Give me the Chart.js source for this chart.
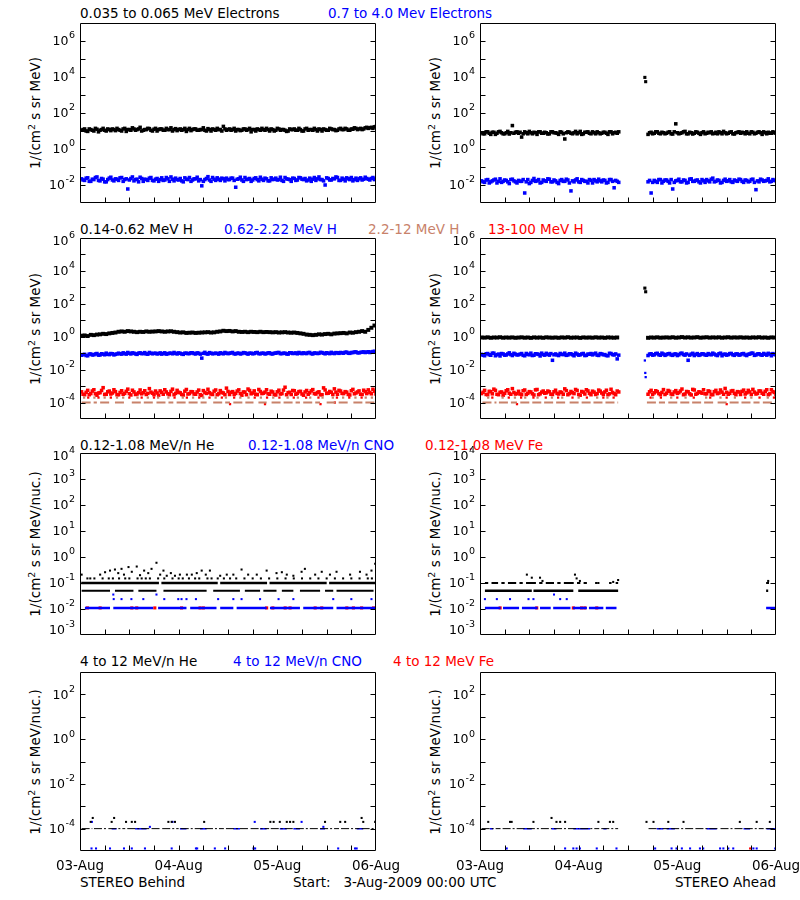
<!DOCTYPE html>
<html><head><meta charset="utf-8">
<script src="https://cdn.jsdelivr.net/npm/chart.js@4.4.1/dist/chart.umd.min.js"></script>
<style>
html,body{margin:0;padding:0;background:#fff;}
#wrap{position:relative;width:800px;height:900px;overflow:hidden;font-family:"DejaVu Sans",sans-serif;font-size:13.5px;color:#000;}
canvas{position:absolute;}
.t{position:absolute;white-space:nowrap;line-height:16px;}
.yt{position:absolute;white-space:nowrap;line-height:16px;transform:translate(-50%,-50%) rotate(-90deg);}
.yt sup{font-size:9.5px;vertical-align:5px;line-height:0;}
.b{color:#0000ff}.r{color:#ff0000}.s{color:#c8826a}
</style></head><body><div id="wrap">
<span class="t" style="left:80px;top:5px">0.035 to 0.065 MeV Electrons</span>
<span class="t b" style="left:328px;top:5px">0.7 to 4.0 Mev Electrons</span>
<span class="t" style="left:80px;top:221px">0.14-0.62 MeV H</span>
<span class="t b" style="left:224px;top:221px">0.62-2.22 MeV H</span>
<span class="t s" style="left:368px;top:221px">2.2-12 MeV H</span>
<span class="t r" style="left:488px;top:221px">13-100 MeV H</span>
<span class="t" style="left:80px;top:437px">0.12-1.08 MeV/n He</span>
<span class="t b" style="left:248px;top:437px">0.12-1.08 MeV/n CNO</span>
<span class="t r" style="left:425px;top:437px">0.12-1.08 MeV Fe</span>
<span class="t" style="left:80px;top:653px">4 to 12 MeV/n He</span>
<span class="t b" style="left:233px;top:653px">4 to 12 MeV/n CNO</span>
<span class="t r" style="left:393px;top:653px">4 to 12 MeV Fe</span>
<span class="t" style="left:80px;top:874px">STEREO Behind</span>
<span class="t" style="left:293px;top:874px">Start:&nbsp;&nbsp;&nbsp;3-Aug-2009 00:00 UTC</span>
<span class="t" style="right:24px;top:874px">STEREO Ahead</span>
<div class="yt" style="left:35px;top:113px">1/(cm<sup>2</sup> s sr MeV)</div>
<div class="yt" style="left:435px;top:113px">1/(cm<sup>2</sup> s sr MeV)</div>
<div class="yt" style="left:35px;top:329px">1/(cm<sup>2</sup> s sr MeV)</div>
<div class="yt" style="left:435px;top:329px">1/(cm<sup>2</sup> s sr MeV)</div>
<div class="yt" style="left:35px;top:544px">1/(cm<sup>2</sup> s sr MeV/nuc.)</div>
<div class="yt" style="left:435px;top:544px">1/(cm<sup>2</sup> s sr MeV/nuc.)</div>
<div class="yt" style="left:35px;top:762px">1/(cm<sup>2</sup> s sr MeV/nuc.)</div>
<div class="yt" style="left:435px;top:762px">1/(cm<sup>2</sup> s sr MeV/nuc.)</div>
</div>
<script>
// ---------------- DATA ----------------
const HOURS = 72;                       // 03-Aug 00:00 to 06-Aug 00:00
const dayLabels = ['03-Aug','04-Aug','05-Aug','06-Aug'];
const dayHours = [0,24,48,72];
const xTickHours = [6,12,18,24,30,36,42,48,54,60,66];

// Row 1: electrons (two interleaved 45-min sample sets: A on the half-step, B on the step)
const eLowBehind = [
 11,13,9.5,12,10,12.5,11,14,10,12,13,10.5,
 12,10,14,12,11,13,12,16,11,12,13.5,10,
 14,12,13,11,12,15,12,10.5,13,12,9.5,14,
 12,13,11,12,11,13.5,10,12,14,12,18,11,
 13,12,10,12,11,13,12,9,12,13,11,12,
 14,10,12,11,13,12,11,10,12,13,11,12,
 10,14,12,11,12,13,10,12,11,13,12,11,
 14,12,13,11,12.5,14,13,12,15,14,16,17];
const eLowBehindB = [
 12,10,13,11,14,9,12,11,13,10.5,12,14,
 11,13,9.5,12,15,11,13,10,12,14,11,12.5,
 10,13,11,14,12,10,13.5,12,11,14,12,10.5,
 13,11,12,15,10,12,13,11,12,10,13,12,
 11,14,12,10.5,13,11,14,12,10,12,14,11,
 12,13,10,14,11,12,9.5,13,12,11,14,10,
 13,11,12,14,10,12,13,11,14,12,10.5,13,
 12,14,11,13,15,12,14,13,16,15,14,18];
const eHighBehind = [
 .022,.018,.025,.016,.02,.028,.017,.021,.015,.024,.019,.022,
 .018,.026,.02,.006,.023,.017,.021,.027,.016,.02,.024,.018,
 .021,.016,.025,.019,.022,.028,.017,.02,.023,.015,.021,.026,
 .019,.022,.017,.009,.02,.029,.016,.021,.025,.018,.022,.024,
 .02,.024,.0075,.022,.019,.026,.021,.016,.023,.02,.027,.018,
 .022,.017,.02,.024,.02,.018,.026,.021,.016,.023,.019,.025,
 .02,.017,.024,.021,.018,.028,.02,.01,.023,.019,.022,.026,
 .018,.021,.025,.02,.017,.024,.022,.019,.027,.021,.023,.02];
const eHighBehindB = [
 .019,.024,.016,.021,.026,.018,.023,.015,.02,.027,.017,.021,
 .025,.016,.022,.019,.028,.02,.015,.023,.021,.018,.026,.017,
 .023,.02,.018,.026,.016,.021,.024,.019,.017,.025,.02,.016,
 .022,.027,.02,.016,.023,.019,.026,.018,.021,.024,.017,.02,
 .024,.018,.021,.027,.016,.02,.023,.019,.025,.017,.021,.024,
 .017,.025,.021,.019,.027,.016,.022,.02,.024,.018,.026,.021,
 .023,.019,.016,.026,.022,.02,.017,.025,.019,.023,.028,.018,
 .024,.017,.022,.026,.02,.018,.025,.021,.023,.019,.026,.022];
const eLowAhead = [
 8,7,9,6.5,8.5,7.5,9.5,7,8,6.8,20,8.5,
 7.5,4.6,9,7,8,8.5,6.5,9,7.5,8,7,9,
 8,6.5,8.5,3.6,9,7.5,8,7,9.5,7,8.5,7.5,
 9,7,8,7.5,8.5,6.5,9,8,7.5,null,null,null,
 null,null,null,null,null,null,6.5,8.5,7.5,9,7,8,
 7.5,9,6.8,25,7,8,9.5,7,8,7.5,8.5,6.5,
 9,7.5,8,7,8.5,9,7,8,7.5,9,6.8,8.5,
 7.5,8,9,7,8.5,7.5,9,6.5,8,8.5,7.5,8];
const eLowAheadB = [
 7,9,7.5,8.5,6.5,9,8,7,9.5,8,7.5,9,
 8.5,7,8,9.5,7,8,9,7.5,8.5,6.8,9,8,
 7.5,9,7,8,8.5,7,9.5,8,6.5,8.5,9,7,
 8,9,7,8.5,7.5,9,7,8.5,9,null,null,null,
 null,null,null,null,null,null,8,7,9,7.5,8.5,7,
 8.5,7,9,8,7.5,9,7,8.5,6.8,9,7.5,8,
 7,8.5,9,7.5,7,8,9.5,7,8.5,7,8,9,
 8.5,7,7.5,9,7,8.5,8,9,7,7.5,9,7.5];
const eHighAhead = [
 .017,.014,.02,.015,.019,.013,.022,.016,.018,.012,.021,.015,
 .018,.016,.0036,.02,.014,.023,.017,.013,.019,.016,.021,.015,
 .017,.012,.02,.016,.019,.0047,.015,.022,.014,.018,.016,.02,
 .013,.017,.021,.015,.018,.014,.02,.007,.016,null,null,null,
 null,null,null,null,null,null,.015,.0036,.018,.014,.02,.016,
 .019,.013,.006,.017,.021,.015,.018,.014,.022,.016,.019,.013,
 .017,.02,.015,.024,.016,.018,.014,.021,.017,.015,.019,.016,
 .02,.014,.018,.016,.021,.0055,.015,.019,.017,.022,.016,.018];
const eHighAheadB = [
 .015,.019,.013,.017,.021,.016,.014,.019,.015,.02,.017,.013,
 .016,.02,.015,.012,.018,.016,.02,.014,.017,.022,.015,.019,
 .014,.018,.016,.021,.013,.017,.019,.015,.02,.016,.013,.018,
 .02,.015,.017,.019,.013,.02,.016,.018,.014,null,null,null,
 null,null,null,null,null,null,.018,.014,.016,.02,.013,.019,
 .016,.02,.014,.018,.015,.019,.013,.021,.016,.018,.015,.02,
 .014,.017,.021,.015,.019,.013,.018,.016,.02,.014,.017,.021,
 .016,.019,.015,.02,.014,.017,.021,.016,.018,.015,.02,.017];
const eLowAheadSpike = [[40.1,9500],[40.3,5500]];

// Row 2: protons
const hLowBehind = [
 1.15,1.2,1.1,1.3,1.25,1.35,1.4,1.5,1.45,1.6,1.7,1.8,
 2.0,2.1,2.0,2.2,2.1,2.0,1.9,2.0,1.95,2.1,2.0,2.05,
 2.1,2.2,2.1,2.0,2.1,2.15,2.0,1.9,1.8,1.85,1.7,1.75,
 1.8,1.7,1.75,1.8,1.85,1.9,1.8,1.85,2.0,2.1,2.3,2.2,
 2.25,2.1,2.2,2.0,1.95,2.0,1.9,2.0,1.95,1.9,2.0,1.9,
 1.95,1.9,1.85,1.9,1.8,1.85,1.9,1.8,1.75,1.8,1.7,1.6,
 1.5,1.35,1.3,1.25,1.3,1.4,1.35,1.45,1.5,1.4,1.55,1.6,
 1.65,1.7,1.6,1.8,1.75,1.9,2.0,2.2,2.0,2.6,3.5,4.8];
const hMidBehind = [
 .075,.085,.07,.09,.08,.095,.078,.088,.1,.082,.092,.085,
 .1,.088,.095,.11,.09,.1,.085,.105,.095,.09,.11,.092,
 .1,.095,.088,.105,.092,.1,.11,.09,.098,.085,.1,.095,
 .105,.09,.1,.05,.112,.088,.1,.096,.096,.105,.092,.1,
 .098,.11,.09,.1,.095,.105,.088,.1,.096,.11,.092,.1,
 .095,.105,.09,.1,.11,.094,.1,.088,.105,.098,.092,.1,
 .105,.095,.11,.09,.1,.098,.108,.092,.1,.112,.095,.105,
 .11,.1,.115,.098,.108,.12,.105,.115,.11,.122,.118,.13];
const hMidBehindB = [
 .082,.072,.088,.078,.09,.076,.092,.08,.086,.095,.079,.09,
 .092,.105,.088,.098,.104,.09,.1,.094,.108,.087,.1,.098,
 .09,.104,.096,.088,.1,.092,.098,.104,.09,.1,.094,.106,
 .095,.104,.088,.098,.093,.108,.092,.1,.088,.098,.11,.094,
 .104,.092,.1,.09,.108,.096,.1,.092,.106,.094,.1,.09,
 .104,.092,.1,.108,.094,.1,.09,.106,.096,.104,.11,.094,
 .098,.108,.094,.104,.096,.112,.1,.106,.094,.1,.108,.098,
 .104,.114,.1,.11,.118,.106,.112,.12,.116,.11,.125,.12];
const hHighBehind = [
 4.5e-4,3e-4,5.5e-4,3.5e-4,6e-4,2.8e-4,4e-4,8e-4,3.2e-4,5e-4,3.8e-4,4.6e-4,
 3e-4,5.2e-4,3.6e-4,6.5e-4,2.9e-4,4.4e-4,3.3e-4,5.8e-4,4e-4,3.1e-4,7e-4,3.7e-4,
 5e-4,2.8e-4,4.2e-4,6e-4,3.4e-4,4.8e-4,3e-4,5.5e-4,3.9e-4,2.9e-4,6.2e-4,3.5e-4,
 4.5e-4,3.2e-4,5.7e-4,2.7e-4,4.1e-4,6.4e-4,3.3e-4,4.9e-4,3e-4,5.3e-4,3.8e-4,7.5e-4,
 3.1e-4,4.6e-4,3.6e-4,5.9e-4,2.8e-4,4.3e-4,6.6e-4,3.4e-4,5.1e-4,3e-4,4.7e-4,3.7e-4,
 6e-4,3.2e-4,4.4e-4,2.9e-4,5.6e-4,3.5e-4,8.5e-4,4e-4,3.1e-4,5.2e-4,3.6e-4,4.8e-4,
 2.8e-4,5.4e-4,3.9e-4,6.1e-4,3.3e-4,4.5e-4,3e-4,5.8e-4,3.7e-4,4.2e-4,6.8e-4,3.2e-4,
 5e-4,3.5e-4,4.3e-4,2.9e-4,6.3e-4,3.8e-4,5.1e-4,3.1e-4,4.6e-4,5.9e-4,3.4e-4,4.9e-4];
const hHighBehindB = [
 3.2e-4,4.2e-4,3e-4,5e-4,3.4e-4,3.8e-4,5.4e-4,3.1e-4,4.5e-4,3.3e-4,6e-4,3e-4,
 4.1e-4,3.2e-4,4.8e-4,3.5e-4,5.6e-4,3.1e-4,4e-4,3.4e-4,5.2e-4,3.6e-4,4.3e-4,3e-4,
 3.8e-4,5.1e-4,3.2e-4,4.4e-4,3e-4,6.5e-4,3.6e-4,4.2e-4,3.1e-4,4.9e-4,3.3e-4,4.6e-4,
 3.3e-4,4.4e-4,3e-4,5.3e-4,3.6e-4,4e-4,3.1e-4,5.8e-4,3.4e-4,4.1e-4,3e-4,4.7e-4,
 4.2e-4,3.1e-4,5e-4,3.5e-4,4.4e-4,3e-4,5.4e-4,3.8e-4,3.2e-4,6.2e-4,3.5e-4,4.3e-4,
 3.4e-4,4.9e-4,3.1e-4,4.5e-4,3.3e-4,5.7e-4,3e-4,4.2e-4,5.4e-4,3.2e-4,4.6e-4,3.3e-4,
 4.4e-4,3.2e-4,5.1e-4,3.5e-4,4.1e-4,3e-4,7.8e-4,3.6e-4,4.7e-4,3.1e-4,4.3e-4,5.5e-4,
 3.6e-4,4.6e-4,3.1e-4,5.2e-4,3.4e-4,4.4e-4,3.2e-4,5.6e-4,3.5e-4,4.1e-4,6.4e-4,3.3e-4];
const hSiennaOneBehind = [[0.4,4.1],[4.9,7.3],[8.5,11.4],[12.6,17.8],[18.6,22.7],[23.5,30.8],[32.4,36.5],[37.3,42.2],[43.4,45.4],[46.6,53.5],[54.3,58.4],[60,65.7],[66.5,72]];
const hSiennaTwoBehind = [1,3.5,6,9,10.5,14,16.5,19,21.5,25,27.5,30,33,35.5,39,41,44,47,50.5,53,56,59,61.5,64,67,69.5,71];
const hRedTwoBehind = [2,4.5,7.5,12,15,18,23,26,29,31.5,34.5,37.5,42.5,45.5,48.5,52,55,58,62.5,65.5,68.5];
const hRedLowBehind = [[36.5,8e-5],[45,8e-5],[58.5,8e-5],[62,1e-4]];

const hLowAhead = [
 .9,.88,.92,.86,.9,.89,.93,.87,.9,.88,.91,.86,
 .89,.92,.87,.9,.85,.91,.88,.9,.86,.92,.89,.87,
 .9,.86,.91,.88,.93,.87,.89,.9,.85,.91,.88,.9,
 .87,.92,.88,.9,.86,.91,.89,.87,.9,null,null,null,
 null,null,null,null,null,null,.86,.9,.88,.92,.87,.89,
 .91,.88,.93,.87,.9,.95,.89,.92,.88,.9,.94,.87,
 .9,.93,.88,.91,.89,.92,.87,.9,.93,.88,.91,.89,
 .92,.88,.9,.87,.91,.89,.93,.88,.9,.86,.91,.89];
const hMidAhead = [
 .085,.07,.095,.075,.1,.08,.068,.09,.078,.105,.072,.088,
 .08,.095,.07,.085,.1,.075,.09,.068,.082,.098,.076,.037,
 .09,.072,.085,.1,.078,.092,.07,.088,.08,.096,.074,.086,
 .079,.1,.073,.09,.082,.07,.095,.078,.045,null,null,null,
 null,null,null,null,null,null,.072,.092,.08,.098,.075,.088,
 .082,.095,.074,.09,.08,.1,.076,.037,.088,.072,.094,.08,
 .09,.075,.085,.1,.078,.092,.07,.088,.082,.096,.074,.09,
 .08,.095,.072,.088,.1,.078,.092,.075,.086,.098,.07,.084];
const hMidAheadB = [
 .075,.092,.08,.1,.07,.088,.095,.076,.09,.082,.098,.078,
 .088,.074,.096,.08,.072,.092,.084,.1,.076,.086,.094,.08,
 .078,.096,.082,.074,.092,.08,.1,.076,.09,.072,.088,.095,
 .09,.076,.094,.08,.072,.098,.082,.09,.076,null,null,null,
 null,null,null,null,null,null,.088,.076,.094,.08,.1,.074,
 .092,.078,.088,.072,.096,.082,.09,.076,.098,.084,.074,.092,
 .078,.094,.08,.088,.072,.1,.084,.076,.094,.08,.09,.076,
 .092,.078,.086,.1,.074,.09,.08,.096,.076,.088,.094,.08];
const hHighAhead = [
 3.5e-4,5.5e-4,3e-4,4.6e-4,6.5e-4,3.2e-4,4.2e-4,2.8e-4,5.2e-4,3.7e-4,7e-4,3.3e-4,
 4.8e-4,3e-4,5.8e-4,3.6e-4,4.4e-4,2.9e-4,6.2e-4,3.4e-4,5e-4,3.9e-4,4.5e-4,3.1e-4,
 5.6e-4,3.3e-4,4.1e-4,6.8e-4,3e-4,4.7e-4,3.5e-4,5.4e-4,2.8e-4,4.3e-4,6e-4,3.6e-4,
 4.9e-4,3.1e-4,5.7e-4,3.8e-4,4.4e-4,3e-4,6.4e-4,3.5e-4,5e-4,null,null,null,
 null,null,null,null,null,null,3.2e-4,5.5e-4,3.9e-4,4.6e-4,3e-4,6.1e-4,
 3.7e-4,4.8e-4,3.1e-4,5.3e-4,4e-4,6.6e-4,3.3e-4,4.5e-4,2.9e-4,5.8e-4,3.6e-4,4.2e-4,
 6e-4,3.4e-4,4.7e-4,3e-4,5.5e-4,3.8e-4,4.3e-4,7.2e-4,3.2e-4,5e-4,3.6e-4,4.6e-4,
 3.1e-4,5.7e-4,3.9e-4,4.4e-4,6.3e-4,3.3e-4,5.1e-4,3.7e-4,4.8e-4,3e-4,6e-4,4.1e-4];
const hHighAheadB = [
 4.2e-4,3.1e-4,4.8e-4,3.4e-4,5.5e-4,3e-4,4.4e-4,3.6e-4,6e-4,3.2e-4,4.1e-4,3.5e-4,
 3.3e-4,5.2e-4,3.1e-4,4.6e-4,3.4e-4,5.9e-4,3e-4,4.3e-4,3.7e-4,5e-4,3.2e-4,4.5e-4,
 3.6e-4,4.4e-4,3.2e-4,5.3e-4,3.5e-4,4e-4,6.2e-4,3.1e-4,4.7e-4,3.3e-4,5.1e-4,3e-4,
 4.3e-4,3.5e-4,4.9e-4,3.1e-4,5.6e-4,3.4e-4,4.1e-4,3e-4,4.4e-4,null,null,null,
 null,null,null,null,null,null,4.5e-4,3.2e-4,5.2e-4,3.5e-4,4.1e-4,3.1e-4,
 5.4e-4,3.3e-4,4.4e-4,3.6e-4,5e-4,3e-4,4.7e-4,3.4e-4,6.3e-4,3.2e-4,4.5e-4,3.7e-4,
 3.4e-4,5.1e-4,3.1e-4,4.6e-4,3.5e-4,5.8e-4,3.2e-4,4.2e-4,3.6e-4,5.3e-4,3e-4,4.4e-4,
 4.8e-4,3.3e-4,5.5e-4,3.1e-4,4.3e-4,3.6e-4,5e-4,3.2e-4,6e-4,3.4e-4,4.6e-4,3.1e-4];
const hSiennaOneAhead = [[0.6,4],[4.6,9],[9.8,15],[15.6,21],[21.8,27],[27.6,33.6],[40.6,45],[45.8,51],[51.6,57],[57.8,63],[63.6,68],[68.8,72]];
const hSiennaTwoAhead = [2,5.5,8.5,11,14,17.5,20,24,28.5,31,42,46.5,50,55,58.5,62,66,70];
const hRedTwoAhead = [3,7,10,13,16,19,22.5,26,30,32.5,41.5,44,48,52,56,60,64.5,68,71.5];
const hRedLowAhead = [[9,8e-5],[60,8e-5]];
const hLowAheadSpike = [[40.1,900],[40.3,540]];
const hMidAheadSpike = [[40.1,0.036],[40.2,0.0063],[40.3,0.0035]];
const hOneCount = 1e-4, hTwoCount = 2e-4;

// Row 3: 0.12-1.08 MeV/n heavy ions
const heUpper = 0.1, heLower = 0.05, heRow = 0.15, cnoLevel = 0.011;
const heUpperBehind = [[0.3,19.2],[19.8,33.5],[34.1,45.5],[46.1,60],[60.6,71.8]];
const heLowerBehind = [[0.4,7.3],[8.5,13],[14.2,18.6],[20.3,30.8],[32.4,38.9],[40.1,43.8],[44.6,47.8],[49.1,51.9],[53.5,58.4],[59.6,61.6],[62.4,71.4]];
const heRowBehind = [2.5,3.5,5.5,7,8,9.5,11,12,14,15,16,17,19,20.5,22.5,24,25,26.5,28,29,31,32,33.5,35,36.5,38,40,42,44,46,48,50,52,54,56,58,60,62,64,66,68,70,71];
const heScatterBehind = [[0.4,0.21],[1.8,0.15],[4.9,0.21],[6.1,0.26],[7.3,0.3],[8.5,0.33],[9.3,0.24],[10.1,0.35],[10.7,0.21],[11.8,0.41],[12.6,0.27],[13.8,0.43],[14.6,0.2],[15.6,0.3],[16.6,0.24],[17.4,0.35],[18.6,0.6],[19.5,0.21],[20.3,0.3],[21.1,0.19],[22.1,0.24],[23.1,0.19],[24.3,0.21],[26,0.21],[27.2,0.21],[28.4,0.24],[29.6,0.3],[30.6,0.21],[31.6,0.3],[34.1,0.19],[35.7,0.21],[37.3,0.21],[39.3,0.33],[40.9,0.21],[43,0.21],[45.4,0.3],[47.8,0.24],[49.1,0.26],[50.3,0.21],[51.9,0.19],[53.9,0.27],[54.7,0.35],[57.2,0.21],[58.8,0.27],[60.8,0.21],[62.4,0.27],[65.7,0.21],[68.1,0.27],[69.7,0.21],[70.9,0.3],[71.8,0.55]];
const cnoLineBehind = [[1.2,7.3],[8.1,17.8],[19,25.9],[26.8,33.2],[34.1,37.3],[38.1,45.4],[46.2,53.5],[54.3,61.6],[62.4,72]];
const cnoScatterBehind = [[8.1,0.036],[18.6,0.036],[8.2,0.024],[10.1,0.024],[12.5,0.024],[15.4,0.024],[20.5,0.024],[23.9,0.024],[24.7,0.024],[25.9,0.024],[28.2,0.024],[33.6,0.024],[37.3,0.024],[39.3,0.024],[43.8,0.024],[48.3,0.024],[51.9,0.024],[61.6,0.024],[66,0.024],[70.9,0.024]];
const feBehind = [1.8,4.9,12.6,13.8,18.2,24.7,29.2,30,45.4,46.9,49.9,51.1,57.2,58.8,64.9,66.5,68.5,71.4];

const heUpperAhead = [[1.2,2],[2.8,4.4],[5.2,6],[6.8,8.8],[9.6,10.4],[11.2,13.6],[14.4,15.2],[16,18],[18.8,19.6],[20.4,22.8],[23.6,24.4],[25.2,26],[28,28.6],[31.4,32],[33,33.6],[69.6,70.3]];
const heLowerAhead = [[1.2,12.6],[13,22.7],[23.9,33.6],[69.6,70.1]];
const heScatterAhead = [[11.4,0.21],[12.6,0.16],[14.6,0.16],[15.2,0.12],[23.1,0.21],[23.5,0.15],[24.3,0.12],[28.8,0.1],[32.4,0.11],[33.6,0.13],[70.1,0.12]];
const cnoLineAhead = [[1.2,5],[5.6,9.5],[10.2,14],[14.6,17.2],[17.8,22],[22.6,26],[26.5,30],[30.6,33.2],[69.6,71.8]];
const cnoScatterAhead = [[1.2,0.024],[4.1,0.024],[7.3,0.024],[11.8,0.024],[13,0.024],[19.5,0.024],[21.1,0.024],[18,0.036]];
const feAhead = [4.9,13.8,22.7,24.7,25.5,28.4];

// Row 4: 4-12 MeV/n heavy ions
const heHiLevel = 1e-4, cnoBottom = 1.3e-5;
const heHiLineBehind = [[0.4,3],[3.4,6.5],[6.9,11],[11.5,17],[17.4,19.5],[20,24],[24.5,30],[30.4,35],[35.5,41],[41.5,46],[46.4,52],[52.5,58],[58.4,63],[63.5,68],[68.5,71.8]];
const cnoHiLineBehind = [[7.7,8.9],[13.4,16.2],[24.3,25.9],[29.2,30.8],[37.3,38.9],[43.8,45.4],[48.6,50.3],[51.9,53.5],[58.4,59.6],[67.3,68.9]];
const heHiPtsBehind = [[2.6,2e-4],[3.1,3e-4],[7.7,2e-4],[8.3,3e-4],[11.2,2e-4],[12.6,2e-4],[13.4,2e-4],[21.5,2e-4],[22.3,2e-4],[23.1,2e-4],[30.2,2e-4],[46.3,2e-4],[47.1,2e-4],[48.6,2e-4],[50.3,2e-4],[51.1,2e-4],[51.9,2e-4],[59.6,2e-4],[63.3,2e-4],[64.5,2e-4],[68.5,3e-4],[68.9,2e-4],[71.8,2e-4]];
const cnoHiPtsBehind = [[2.9,2e-4],[22.5,2e-4],[17,1.2e-4],[42.5,2e-4],[53.9,2e-4],[59.2,1.2e-4]];
const cnoBottomBehind = [2.8,3.9,7.3,10.7,12.6,15.8,22.3,28.2,28.5,32.8,35.3,42.2,42.6,62.8,66.9,67.3];

const heHiLineAhead = [[0.4,5],[5.5,11],[11.4,17.5],[18,24],[24.4,29],[29.5,33.6],[41,46],[46.5,52],[52.4,58],[58.5,64],[64.4,69],[69.5,72]];
const cnoHiLineAhead = [[2.4,3.2],[10.5,12.6],[17.4,18.6],[22.7,26.8],[30,30.8],[43,44.6],[45.4,47.4],[55.1,57.6],[64.1,65.7],[69.7,72]];
const heHiPtsAhead = [[2,2e-4],[7.3,2e-4],[7.7,2e-4],[13,2e-4],[17.4,3e-4],[18.6,2e-4],[19.5,2e-4],[20.7,2e-4],[28.8,2e-4],[31.6,2e-4],[32.4,2e-4],[40.5,2e-4],[42.2,2e-4],[45.8,2e-4],[49.5,2e-4],[63.2,2e-4],[67.3,2e-4],[70.5,2e-4]];
const cnoBottomAhead = [6.5,20.7,22.7,23.5,24.3,28.4,33.2,42.6,46.6,47.8,49.1,51.1,53.5,54.3,58.4,59.2,60.4,61.6,66.5,67.3,71.8];
const feBottomAhead = [65.7];

// ---------------- HELPERS ----------------
const BLACK='#000000', BLUE='#0000ff', RED='#ff0000', SIENNA='#c8826a';
const BAND_R = 2.5;
function band(arr){ return arr.map((v,i)=>({x:(i+0.5)*HOURS/arr.length, y:v})); }
function bandB(arr){ return arr.map((v,i)=>({x:(i+1)*HOURS/arr.length, y:v})); }
function pairs(p){ return p.map(([t,v])=>({x:t,y:v})); }
function times(ts,v){ return ts.map(t=>({x:t,y:v})); }
function segs(iv,v){ const out=[]; iv.forEach(([a,b],k)=>{ if(k) out.push({x:(iv[k-1][1]+a)/2,y:null}); out.push({x:a,y:v},{x:b,y:v}); }); return out; }
function dots(data,color,r){ return {data, showLine:false, pointStyle:'rect', pointRadius:r||2.2, pointBackgroundColor:color, pointBorderWidth:0, pointHoverRadius:0}; }
function line(data,color,w,dash){ return {data, showLine:true, borderColor:color, borderWidth:w, borderDash:dash||[], pointRadius:0, pointHoverRadius:0, spanGaps:false, fill:false, borderCapStyle:'butt'}; }

const framePlugin = {
  id:'frame',
  afterDatasetsDraw(chart){
    const o = chart.options.plugins.frame;
    const ctx = chart.ctx, a = chart.chartArea, xs = chart.scales.x, ys = chart.scales.y;
    ctx.save();
    ctx.strokeStyle='#000'; ctx.lineWidth=1;
    const L=Math.round(a.left)+0.5, R=Math.round(a.right)-0.5, T=Math.round(a.top)+0.5, B=Math.round(a.bottom)-0.5;
    ctx.beginPath(); ctx.rect(L,T,R-L,B-T); ctx.stroke();
    ctx.beginPath();
    o.tickExps.forEach(e=>{ const y=Math.round(ys.getPixelForValue(Math.pow(10,e)))+0.5; if(y<T+1||y>B-1) return; ctx.moveTo(L,y); ctx.lineTo(L+5,y); ctx.moveTo(R,y); ctx.lineTo(R-5,y); });
    xTickHours.forEach(h=>{ const x=Math.round(xs.getPixelForValue(h))+0.5; ctx.moveTo(x,B); ctx.lineTo(x,B-5); });
    ctx.stroke();
    ctx.fillStyle='#000'; ctx.textBaseline='middle'; ctx.textAlign='right';
    o.labelExps.forEach(e=>{
      let y=ys.getPixelForValue(Math.pow(10,e));
      y=Math.min(Math.max(y,a.top+3),a.bottom-5);
      const es=String(e);
      ctx.font='9.5px "DejaVu Sans"'; const ew=ctx.measureText(es).width;
      ctx.fillText(es,a.left-5,y-5);
      ctx.font='12.5px "DejaVu Sans"';
      ctx.fillText('10',a.left-5-ew-0.5,y+1);
    });
    if(o.days){ ctx.font='13.5px "DejaVu Sans"'; ctx.textAlign='center';
      dayHours.forEach((h,i)=>ctx.fillText(dayLabels[i], xs.getPixelForValue(h), a.bottom+15)); }
    ctx.restore();
  }
};

function panel(p){
  const c=document.createElement('canvas');
  c.width=400; c.height=p.h; c.style.left=p.left+'px'; c.style.top=p.top+'px';
  c.style.width='400px'; c.style.height=p.h+'px';
  document.getElementById('wrap').appendChild(c);
  new Chart(c,{type:'scatter',data:{datasets:p.ds},
    options:{responsive:false,animation:false,events:[],devicePixelRatio:1,
      layout:{padding:{left:80,right:24,top:p.pt,bottom:p.pb}},
      scales:{x:{type:'linear',display:false,min:0,max:HOURS},
              y:{type:'logarithmic',display:false,min:p.ymin,max:p.ymax}},
      plugins:{legend:{display:false},tooltip:{enabled:false},
        frame:{tickExps:p.ticks,labelExps:p.labels,days:!!p.days}}},
    plugins:[framePlugin]});
}

const r1 = {h:215,top:0,pt:23,pb:12,ymin:1e-3,ymax:1e7,ticks:[-3,-2,-1,0,1,2,3,4,5,6,7],labels:[-2,0,2,4,6]};
const r2 = {h:220,top:215,pt:23,pb:16,ymin:1e-5,ymax:1e6,ticks:[-5,-4,-3,-2,-1,0,1,2,3,4,5,6],labels:[-4,-2,0,2,4,6]};
const r3 = {h:215,top:435,pt:18,pb:15,ymin:1e-3,ymax:1e4,ticks:[-3,-2,-1,0,1,2,3,4],labels:[-3,-2,-1,0,1,2,3,4]};
const r4 = {h:250,top:650,pt:22,pb:49,ymin:1e-5,ymax:1e3,ticks:[-5,-4,-3,-2,-1,0,1,2,3],labels:[-4,-2,0,2],days:true};

panel(Object.assign({},r1,{left:0,ds:[
  dots(band(eLowBehind),BLACK,BAND_R),dots(bandB(eLowBehindB),BLACK,BAND_R),
  dots(band(eHighBehind),BLUE,BAND_R),dots(bandB(eHighBehindB),BLUE,BAND_R)]}));
panel(Object.assign({},r1,{left:400,ds:[
  dots(band(eLowAhead),BLACK,BAND_R),dots(bandB(eLowAheadB),BLACK,BAND_R),
  dots(band(eHighAhead),BLUE,BAND_R),dots(bandB(eHighAheadB),BLUE,BAND_R),
  dots(pairs(eLowAheadSpike),BLACK)]}));

panel(Object.assign({},r2,{left:0,ds:[
  line(segs(hSiennaOneBehind,hOneCount),SIENNA,2,[9,3]),
  dots(times(hSiennaTwoBehind,hTwoCount),SIENNA,1.6),
  dots(times(hRedTwoBehind,hTwoCount),RED,1.6),
  dots(pairs(hRedLowBehind),RED,1.6),
  dots(band(hHighBehind),RED,BAND_R),dots(bandB(hHighBehindB),RED,BAND_R),
  dots(band(hMidBehind),BLUE,BAND_R),dots(bandB(hMidBehindB),BLUE,BAND_R),
  dots(band(hLowBehind),BLACK,2.8)]}));
panel(Object.assign({},r2,{left:400,ds:[
  line(segs(hSiennaOneAhead,hOneCount),SIENNA,2,[9,3]),
  dots(times(hSiennaTwoAhead,hTwoCount),SIENNA,1.6),
  dots(times(hRedTwoAhead,hTwoCount),RED,1.6),
  dots(pairs(hRedLowAhead),RED,1.6),
  dots(band(hHighAhead),RED,BAND_R),dots(bandB(hHighAheadB),RED,BAND_R),
  dots(band(hMidAhead),BLUE,BAND_R),dots(bandB(hMidAheadB),BLUE,BAND_R),
  dots(band(hLowAhead),BLACK,2.8),
  dots(pairs(hLowAheadSpike),BLACK),
  dots(pairs(hMidAheadSpike),BLUE,1.6)]}));

panel(Object.assign({},r3,{left:0,ds:[
  line(segs(heUpperBehind,heUpper),BLACK,2.5),
  line(segs(heLowerBehind,heLower),BLACK,2),
  dots(times(heRowBehind,heRow),BLACK,1.45),
  dots(pairs(heScatterBehind),BLACK,1.45),
  line(segs(cnoLineBehind,cnoLevel),BLUE,2.5),
  dots(pairs(cnoScatterBehind),BLUE,1.45),
  dots(times(feBehind,cnoLevel),RED,2.2)]}));
panel(Object.assign({},r3,{left:400,ds:[
  line(segs(heUpperAhead,heUpper),BLACK,2),
  line(segs(heLowerAhead,heLower),BLACK,2.5),
  dots(pairs(heScatterAhead),BLACK,1.45),
  line(segs(cnoLineAhead,cnoLevel),BLUE,2.5),
  dots(pairs(cnoScatterAhead),BLUE,1.45),
  dots(times(feAhead,cnoLevel),RED,2.2)]}));

panel(Object.assign({},r4,{left:0,ds:[
  line(segs(heHiLineBehind,heHiLevel),BLACK,1,[8,2,2,2]),
  line(segs(cnoHiLineBehind,heHiLevel),BLUE,1.5),
  dots(pairs(heHiPtsBehind),BLACK,1.45),
  dots(pairs(cnoHiPtsBehind),BLUE,1.45),
  dots(times(cnoBottomBehind,cnoBottom),BLUE,1.45)]}));
panel(Object.assign({},r4,{left:400,ds:[
  line(segs(heHiLineAhead,heHiLevel),BLACK,1,[8,2,2,2]),
  line(segs(cnoHiLineAhead,heHiLevel),BLUE,1.5),
  dots(pairs(heHiPtsAhead),BLACK,1.45),
  dots(times(cnoBottomAhead,cnoBottom),BLUE,1.45),
  dots(times(feBottomAhead,cnoBottom),RED,1.45)]}));
</script></body></html>
